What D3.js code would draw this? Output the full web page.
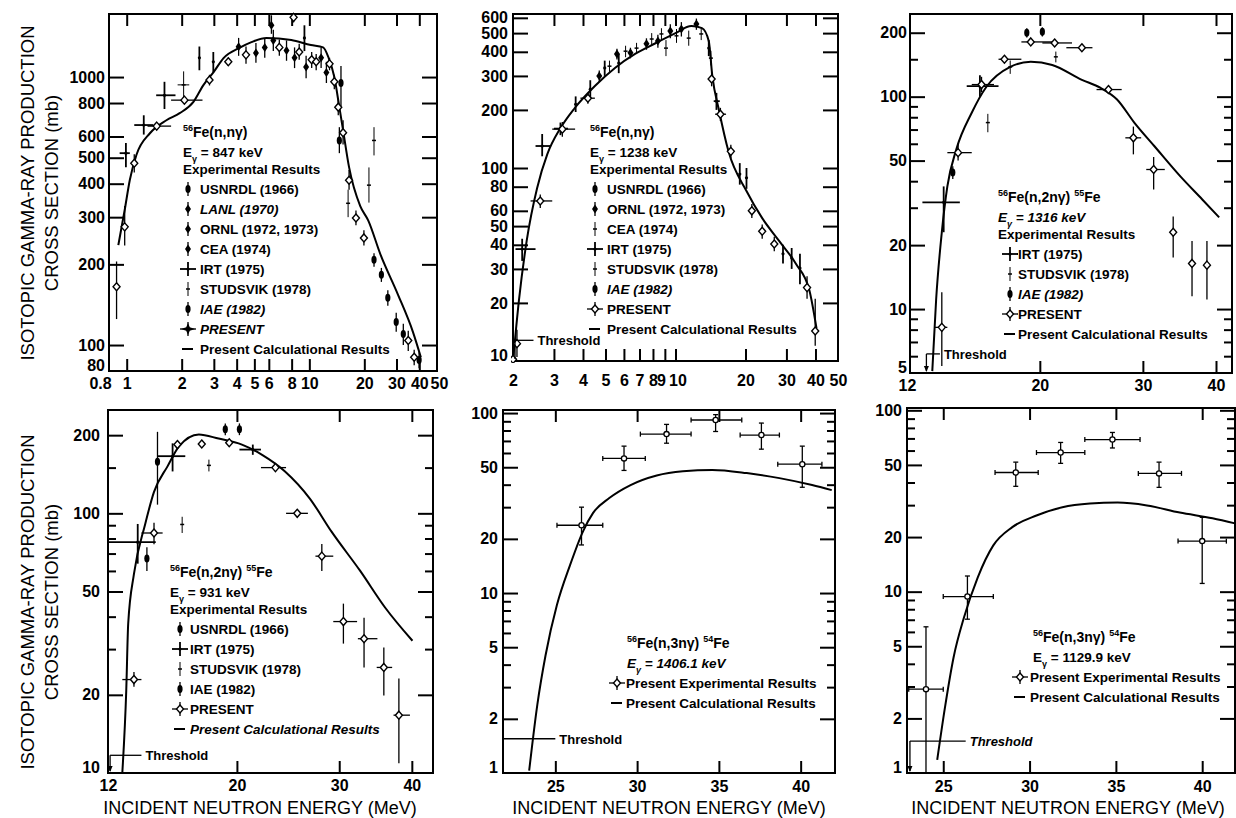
<!DOCTYPE html>
<meta charset="utf-8">
<script src="https://d3js.org/d3.v7.min.js"></script>
<style>
  body { margin: 0; background: #fff; }
  text { fill: #000; }
</style>
<div id="chart"></div>
<script>

// ---------------- data ----------------
// point format: [E (MeV), sigma (mb), sigmaLow, sigmaHigh, ELow, EHigh]

// panel 1 : 56Fe(n,n'g) 847 keV
var p1Calc = [[0.9,236],[0.975,319],[1.04,413],[1.13,512],[1.34,617],[1.65,690],[1.95,733],[2.32,808],
  [2.63,933],[2.99,1043],[3.39,1177],[4.14,1285],[4.82,1350],[5.82,1400],[7.97,1374],[10.2,1316],
  [11.9,1290],[12.7,1188],[13.7,1000],[14.6,772],[15.3,634],[16.5,461],[19.0,330],[21.0,292],
  [24.5,218],[30.6,154],[36.9,112],[40.8,90]];
var p1Present = [[0.88,165,125,205],[0.975,276,235,330],[1.1,477,440,515],[1.46,656,640,672,1.3,1.75],
  [2.07,820,800,840,1.75,2.6],[2.84,975,930,1020],[3.6,1140,1100,1180],[4.5,1210,1120,1300],
  [6.85,1290,1200,1380],[8.2,1670,1600,1720],[8.8,1240,1160,1330],[10.3,1160,1080,1240],
  [10.9,1140,1060,1220],[12.9,1120,1060,1180],[13.7,960,900,1020],[14.4,772,720,830],
  [15.3,620,560,690],[16.5,412,380,450],[18.0,298,280,318],[19.9,251,235,268],[34.8,104,95,113],[37.5,90,84,96]];
var p1Irt = [[0.99,520,461,567,0.915,1.04],[1.24,662,610,720,1.1,1.4],[1.61,855,760,960,1.45,1.85],
  [2.5,1180,1060,1300],[2.98,1140,1040,1240],[9.4,1400,1250,1560]];
var p1Studsvik = [[2.05,935,830,1050,1.9,2.2],[16.3,338,300,380],[21.2,395,340,460],[22.6,580,510,650]];
var p1Ornl = [[4.1,1296,1200,1400],[5.1,1230,1130,1340],[5.7,1290,1180,1400],[7.5,1255,1150,1370],
  [8.3,1180,1080,1290],[9.6,1090,990,1200],[11.6,1180,1080,1290],[12.4,1040,950,1140]];
var p1Lanl = [[6.2,1560,1450,1700],[6.35,1370,1250,1500]];
var p1Usnrdl = [[14.9,950,780,1100],[14.6,580,520,650]];
var p1Iae = [[22.6,208,196,220],[24.8,183,172,194],[26.9,150,140,160],[29.9,122,112,132],
  [32.7,110,100,120],[39.9,88,82,94]];

// panel 2 : 56Fe(n,n'g) 1238 keV
var p2Calc = [[2.0,10],[2.12,20.5],[2.29,41.9],[2.54,78.8],[2.81,118],[3.2,161],[3.68,204],[4.5,266],
  [5.49,330],[6.7,390],[8.2,443],[10.0,500],[11.7,544],[13.0,531],[13.9,455],[14.4,300],[15.4,198],
  [16.9,122],[20.2,76],[23.6,55],[27.9,41.9],[33.0,31.8],[37.7,23.1],[40.4,14.8]];
var p2Present = [[2.0,10.2,9.5,11],[2.08,12.3,10.5,14.5],[2.62,67.5,62,73,2.38,2.95],
  [3.26,159,145,173,2.95,3.7],[4.2,230,215,245,3.9,4.5],[14.3,289,265,315],[15.6,190,175,205,14.8,16.5],
  [17.3,122,112,132],[21.3,60,55,65],[23.6,47,43,51],[26.6,40.4,37,44],[36.8,24,21,27.5],[39.9,14.3,12,21]];
var p2Irt = [[2.19,38,33,43,2.05,2.5],[2.67,130,115,150,2.5,2.9],[3.2,160,148,172,3.0,3.45],
  [3.72,214,195,235],[4.3,256,230,285],[4.96,330,300,360],[5.7,350,310,390],[13.9,418,380,460],
  [15.0,222,200,245,14.6,15.5],[18.9,93,82,106],[20.2,89,78,100],[29.0,35.9,32,40],[31.6,34.2,30,38.5],[34.3,30.3,25,36]];
var p2Ornl = [[4.7,300,280,320],[5.6,390,365,415],[6.4,395,370,420],[7.5,440,410,470],[8.4,455,420,490],
  [9.5,512,470,555],[10.6,525,480,570],[12.3,557,520,595]];
var p2Cea = [[5.2,337,315,360],[6.1,403,375,430],[6.8,418,390,445],[7.9,466,435,500],[8.7,495,460,530],
  [9.1,418,380,460],[10.1,484,445,525],[11.4,471,430,515],[12.9,495,460,530],[14.2,371,340,405]];

// panel 3 : 56Fe(n,2ng)55Fe 1316 keV
var p3Calc = [[13.1,5.1],[13.3,11.1],[13.6,23],[13.9,37.8],[14.4,56.5],[15.3,84],[16.2,111],[17.8,138],
  [19.3,146],[21.0,141],[23.6,120],[25.4,110],[27.1,97],[29.0,75.5],[31.4,58.4],[34.8,42],[37.9,32.8],[40.5,27]];
var p3Present = [[13.6,8.2,5.4,12.0,13.2,13.9],[14.5,54.5,50,60,13.9,15.3],[15.9,114,105,124,15.3,16.7],
  [17.4,150,null,null,17.0,18.6],[19.3,181,null,null,18.6,21.0],[21.2,179,null,null,20.2,22.7],
  [23.6,170,null,null,22.2,24.6],[26.2,108,null,null,25.0,27.6],[28.9,64,53.5,72.3,28.0,29.8],
  [31.3,45.4,36.6,52,30.4,32.7],[33.8,23,17.5,27.3],[36.4,16.4,11.5,20.9],[38.6,16.1,11.1,20.9]];
var p3Irt = [[13.7,31.8,23,37.8,12.6,14.6],[15.8,112,100,126,15.0,17.0]];
var p3Studsvik = [[16.3,75.5,68,83],[17.8,138,128,148],[21.3,154,145,163]];
var p3Iae = [[14.2,44,41,47],[19.0,200,190,210],[20.2,202,192,212]];

// panel 4 : 56Fe(n,2ng)55Fe 931 keV
var p4Calc = [[12.7,10],[12.9,20.8],[13.0,37.6],[13.3,58.4],[13.9,90.6],[14.4,121],[15.2,152],[15.9,181],
  [17.2,201],[18.6,194],[20.4,184],[22.1,168],[24.2,145],[26.7,114],[29.1,85],[32.6,60],[36.0,43.3],[40.1,32.3]];
var p4Present = [[13.3,22.9,21.5,24.5,12.7,13.7],[14.4,84,76,92,13.7,14.9],[15.8,184],[17.4,185],[19.4,187],
  [23.3,150,null,null,22.0,24.3],[25.4,100,null,null,24.3,26.5],[28.0,68.4,60,76.2,27.3,29.3],
  [30.5,38.3,31.5,44.9,29.3,32.2],[33.1,32.9,25.5,39.6,32.3,34.9],[35.8,25.5,19.9,30.4,34.8,37.0],
  [38.0,16.7,10.9,23.1,37.2,39.7]];
var p4Irt = [[13.5,77.4,64,91,12.0,14.5],[15.5,166,145,186,14.6,16.3],[21.3,176,168,184,20.2,22.0]];
var p4Iae = [[14.0,67,60,74],[14.6,158,108,206],[19.1,211,200,222],[20.2,211,200,222]];
var p4Studsvik = [[16.1,90.6,84,97],[17.9,153,145,161]];

// panel 5 : 56Fe(n,3ng)54Fe 1408.1 keV
var p5Calc = [[23.4,1.03],[23.9,2.4],[24.4,4.5],[25.1,8.6],[25.9,14.3],[26.7,22.1],[27.3,27.8],[28.3,33.7],
  [29.6,39.8],[31.2,45],[32.8,47.5],[34.6,48.3],[36.7,46.4],[38.7,43.5],[40.7,39.8],[41.9,37.3]];
var p5Present = [[26.6,23.8,18.5,30,25.1,27.9],[29.2,56,48,65.5,27.9,30.5],[31.8,76.4,68,86.5,30.2,33.3],
  [34.8,91.5,79,98,33.3,36.4],[37.6,75.5,63,88,36.3,38.7],[40.1,52,38.7,65.5,38.6,41.3]];

// panel 6 : 56Fe(n,3ng)54Fe 1129.9 keV
var p6Calc = [[24.65,1.18],[25.1,2.3],[25.6,4.35],[26.2,7.2],[27.0,12.0],[27.9,18.0],[29.0,22.7],[30.4,26.3],
  [31.9,29.2],[33.5,30.6],[35.1,31.0],[36.8,29.9],[38.7,27.3],[40.6,25.4],[41.9,23.8]];
var p6Present = [[24.0,2.9,1,6.4,23.0,25.0],[26.4,9.4,7.05,12.2,25.0,27.9],[29.2,45.4,38.1,51.8,28.0,30.5],
  [31.8,58.5,51,66.5,30.4,33.2],[34.8,69,62,75.5,33.2,36.4],[37.5,44.9,37.6,51.8,36.3,38.8],
  [40.0,19,11.1,25.7,38.6,41.4]];

// tick labels
var p1XLabels = [0.8,1,2,3,4,5,6,8,10,20,30,40,50];
var p1YLabels = [80,100,200,300,400,500,600,800,1000];
var p2XLabels = [2,3,4,5,6,7,8,9,10,20,30,40,50];
var p2YLabels = [10,20,30,40,50,60,80,100,200,300,400,500,600];
var p3XLabels = [12,20,30,40];
var p3YLabels = [5,10,20,50,100,200];
var p4XLabels = [12,20,30,40];
var p4YLabels = [10,20,50,100,200];
var p5XLabels = [25,30,35,40];
var p5YLabels = [1,2,5,10,20,50,100];
var p6XLabels = [25,30,35,40];
var p6YLabels = [1,2,5,10,20,50,100];

// ---------------- drawing ----------------
var FONT = "'Liberation Sans', Arial, Helvetica, sans-serif";
var svg = d3.select("#chart").append("svg")
  .attr("width", 1236).attr("height", 818)
  .style("font-family", FONT);

var minorStd = [3,4,6,7,8,9,30,40,60,70,80,90];

var panels = [
  { left:109, right:437, top:14, bottom:371, xType:"log", xd:[0.8,50], yd:[80,1719],
    xLabels:p1XLabels, yLabels:p1YLabels, xMarks:[1,2,3,4,5,6,8,10,20,30,40],
    yMajor:[100,200,300,400,500,600,800,1000], yMinor:[], yPad:4, xPad:7, xNudge:{0.8:-9, 50:2},
    calc:p1Calc,
    series:[{type:"thin",pts:p1Studsvik},{type:"cross",pts:p1Irt},{type:"dia",pts:p1Ornl},
      {type:"dia",pts:p1Lanl},{type:"ell",pts:p1Usnrdl},{type:"ell",pts:p1Iae},{type:"open",pts:p1Present}],
    legend:{x:183, y:137, mx:188, tx:200, reaction:["56","Fe(n,n\u03b3)"], e:"847 keV", eItalic:false,
      rows:[["ell","USNRDL (1966)"],["dia","LANL (1970)",1],["dia","ORNL (1972, 1973)"],["dia","CEA (1974)"],
        ["cross","IRT (1975)"],["thin","STUDSVIK (1978)"],["ell","IAE (1982)",1],["star","PRESENT",1],
        ["line","Present Calculational Results"]]}
  },
  { left:513, right:838, top:14, bottom:361, xType:"log", xd:[2,50], yd:[10,628],
    xLabels:p2XLabels, yLabels:p2YLabels, xMarks:[3,4,5,6,7,8,9,10,20,30,40],
    yMajor:[20,30,40,50,60,80,100,200,300,400,500,600], yMinor:[], yPad:5, xPad:14, xNudge:{9:-4, 10:2},
    calc:p2Calc,
    series:[{type:"thin",pts:p2Cea},{type:"cross",pts:p2Irt},{type:"dia",pts:p2Ornl},{type:"open",pts:p2Present}],
    threshold:[2.04,12.8,2.45],
    legend:{x:590, y:137, mx:595, tx:607, reaction:["56","Fe(n,n\u03b3)"], e:"1238 keV", eItalic:false,
      rows:[["ell","USNRDL (1966)"],["dia","ORNL (1972, 1973)"],["thin","CEA (1974)"],["cross","IRT (1975)"],
        ["thin","STUDSVIK (1978)"],["ell","IAE (1982)",1],["openh","PRESENT"],["line","Present Calculational Results"]]}
  },
  { left:910, right:1232, top:14, bottom:373, xType:"log", xd:[12,42.6], yd:[5,245],
    xLabels:p3XLabels, yLabels:p3YLabels, xMarks:[20,30,40],
    yMajor:[10,20,50,100,200], yMinor:[6,7,8,9,30,40,60,70,80,90,150], yPad:3, xPad:7, xNudge:{12:-3},
    calc:p3Calc,
    series:[{type:"thin",pts:p3Studsvik},{type:"cross",pts:p3Irt},{type:"ell",pts:p3Iae},{type:"open",pts:p3Present}],
    threshold:[12.8,6.15,13.5,"arrow"],
    legend:{x:998, y:202, mx:1010, tx:1018, reaction:["56","Fe(n,2n\u03b3) ","55","Fe"], e:"1316 keV", eItalic:true,
      rows:[["cross","IRT (1975)"],["thin","STUDSVIK (1978)"],["ell","IAE (1982)",1],["openh","PRESENT"],
        ["line","Present Calculational Results"]]}
  },
  { left:108, right:433, top:410, bottom:773, xType:"log", xd:[12,43.5], yd:[10,250],
    xLabels:p4XLabels, yLabels:p4YLabels, xMarks:[20,30,40],
    yMajor:[20,50,100,200], yMinor:[30,40,60,70,80,90,150], yPad:8, xPad:7, xNudge:{},
    calc:p4Calc,
    series:[{type:"thin",pts:p4Studsvik},{type:"cross",pts:p4Irt},{type:"ell",pts:p4Iae},{type:"open",pts:p4Present}],
    threshold:[12.1,11.7,13.7,"arrow"],
    legend:{x:170, y:577, mx:180, tx:190, reaction:["56","Fe(n,2n\u03b3) ","55","Fe"], e:"931 keV", eItalic:false,
      rows:[["ell","USNRDL (1966)"],["cross","IRT (1975)"],["thin","STUDSVIK (1978)"],["ell","IAE (1982)"],
        ["openh","PRESENT"],["line","Present Calculational Results",1]]}
  },
  { left:503, right:835, top:410, bottom:773, xType:"lin", xd:[21.8,42.1], yd:[1,104],
    xLabels:p5XLabels, yLabels:p5YLabels, xMarks:[25,30,35,40],
    yMajor:[2,5,10,20,50,100], yMinor:minorStd, yPad:5, xPad:8, xNudge:{},
    calc:p5Calc, caps:true,
    series:[{type:"ring",pts:p5Present}],
    threshold:[21.8,1.55,25.0,"none"],
    legend:{x:627, y:648, mx:617, tx:626, noExp:true, reaction:["56","Fe(n,3n\u03b3) ","54","Fe"], e:"1406.1 keV", eItalic:true,
      rows:[["ringhv","Present Experimental Results"],["line","Present Calculational Results"]]}
  },
  { left:907, right:1235, top:408, bottom:773, xType:"lin", xd:[22.9,41.9], yd:[1,103],
    xLabels:p6XLabels, yLabels:p6YLabels, xMarks:[25,30,35,40],
    yMajor:[2,5,10,20,50,100], yMinor:minorStd, yPad:5, xPad:8, xNudge:{},
    calc:p6Calc, caps:true,
    series:[{type:"ring",pts:p6Present}],
    threshold:[23.07,1.5,26.3,"arrow",1],
    legend:{x:1033, y:642, mx:1020, tx:1030, noExp:true, reaction:["56","Fe(n,3n\u03b3) ","54","Fe"], e:"1129.9 keV", eItalic:false,
      rows:[["ringhv","Present Experimental Results"],["line","Present Calculational Results"]]}
  }
];

function line(g, x1, y1, x2, y2, w) {
  return g.append("line").attr("x1", x1).attr("y1", y1).attr("x2", x2).attr("y2", y2)
    .attr("stroke", "#000").attr("stroke-width", w || 1.3);
}

function marker(g, type, cx, cy) {
  if (type === "open" || type === "openh") {
    g.append("path").attr("d", "M" + cx + "," + (cy - 4) + "L" + (cx + 3.5) + "," + cy + "L" + cx + "," + (cy + 4) + "L" + (cx - 3.5) + "," + cy + "Z")
      .attr("fill", "#fff").attr("stroke", "#000").attr("stroke-width", 1.4);
  } else if (type === "ring" || type === "ringhv") {
    g.append("circle").attr("cx", cx).attr("cy", cy).attr("r", 2.6)
      .attr("fill", "#fff").attr("stroke", "#000").attr("stroke-width", 1.3);
  } else if (type === "dia") {
    g.append("path").attr("d", "M" + cx + "," + (cy - 4.5) + "L" + (cx + 3) + "," + cy + "L" + cx + "," + (cy + 4.5) + "L" + (cx - 3) + "," + cy + "Z")
      .attr("fill", "#000");
  } else if (type === "ell") {
    g.append("ellipse").attr("cx", cx).attr("cy", cy).attr("rx", 2.6).attr("ry", 4).attr("fill", "#000");
  } else if (type === "cross") {
    g.append("circle").attr("cx", cx).attr("cy", cy).attr("r", 1.6).attr("fill", "#000");
  } else if (type === "thin") {
    line(g, cx - 2, cy, cx + 2, cy, 1.5);
  } else if (type === "star") {
    g.append("path").attr("d", "M" + cx + "," + (cy - 6) + "L" + (cx + 1.8) + "," + (cy - 1.8) + "L" + (cx + 7) + "," + cy +
      "L" + (cx + 1.8) + "," + (cy + 1.8) + "L" + cx + "," + (cy + 6) + "L" + (cx - 1.8) + "," + (cy + 1.8) +
      "L" + (cx - 7) + "," + cy + "L" + (cx - 1.8) + "," + (cy - 1.8) + "Z").attr("fill", "#000");
  }
}

function drawPanel(cfg, idx) {
  var x = (cfg.xType === "log" ? d3.scaleLog() : d3.scaleLinear()).domain(cfg.xd).range([cfg.left, cfg.right]);
  var y = d3.scaleLog().domain(cfg.yd).range([cfg.bottom, cfg.top]);
  var g = svg.append("g").attr("class", "panel" + (idx + 1));

  var clipId = "clip" + idx;
  svg.append("clipPath").attr("id", clipId).append("rect")
    .attr("x", cfg.left - 2).attr("y", cfg.top - 2)
    .attr("width", cfg.right - cfg.left + 4).attr("height", cfg.bottom - cfg.top + 4);

  // inward tick marks on all four sides
  function ticks(axis, tx, ty) {
    var a = g.append("g").attr("transform", "translate(" + tx + "," + ty + ")").call(axis);
    a.select(".domain").remove();
    a.selectAll("line").attr("stroke", "#000").attr("stroke-width", 2);
  }
  ticks(d3.axisLeft(y).tickValues(cfg.yMajor).tickSize(-15).tickFormat(""), cfg.left, 0);
  ticks(d3.axisRight(y).tickValues(cfg.yMajor).tickSize(-15).tickFormat(""), cfg.right, 0);
  if (cfg.yMinor.length) {
    ticks(d3.axisLeft(y).tickValues(cfg.yMinor).tickSize(-8).tickFormat(""), cfg.left, 0);
    ticks(d3.axisRight(y).tickValues(cfg.yMinor).tickSize(-8).tickFormat(""), cfg.right, 0);
  }
  ticks(d3.axisTop(x).tickValues(cfg.xMarks).tickSize(-12).tickFormat(""), 0, cfg.top);
  ticks(d3.axisBottom(x).tickValues(cfg.xMarks).tickSize(-12).tickFormat(""), 0, cfg.bottom);

  // tick labels
  var yl = g.append("g").attr("transform", "translate(" + cfg.left + ",0)")
    .call(d3.axisLeft(y).tickValues(cfg.yLabels).tickSize(0).tickPadding(cfg.yPad).tickFormat(function (d) { return String(d); }));
  yl.select(".domain").remove();
  // lowest y label sits a little higher so it clears the x labels
  yl.selectAll(".tick").filter(function (d) { return d === cfg.yd[0]; }).select("text").attr("dy", "-0.05em");
  var xl = g.append("g").attr("transform", "translate(0," + cfg.bottom + ")")
    .call(d3.axisBottom(x).tickValues(cfg.xLabels).tickSize(0).tickPadding(cfg.xPad).tickFormat(function (d) { return String(d); }));
  xl.select(".domain").remove();
  xl.selectAll(".tick text").attr("dx", function (d) { return cfg.xNudge[d] || 0; });
  g.selectAll(".tick text").attr("font-family", FONT).attr("font-size", 16).attr("font-weight", "bold").attr("fill", "#000");

  // frame
  g.append("rect").attr("x", cfg.left).attr("y", cfg.top)
    .attr("width", cfg.right - cfg.left).attr("height", cfg.bottom - cfg.top)
    .attr("fill", "none").attr("stroke", "#000").attr("stroke-width", 2);

  var plot = g.append("g").attr("clip-path", "url(#" + clipId + ")");

  // calculated curve
  plot.append("path").datum(cfg.calc)
    .attr("d", d3.line().x(function (d) { return x(d[0]); }).y(function (d) { return y(d[1]); }).curve(d3.curveMonotoneX))
    .attr("fill", "none").attr("stroke", "#000").attr("stroke-width", 2);

  // experimental points
  cfg.series.forEach(function (s) {
    var sw = s.type === "cross" ? 1.8 : (s.type === "thin" ? 1 : 1.3);
    s.pts.forEach(function (p) {
      var cx = x(p[0]), cy = y(p[1]);
      if (p[2] != null) {
        line(plot, cx, y(p[2]), cx, y(p[3]), sw);
        if (cfg.caps) { line(plot, cx - 2.5, y(p[2]), cx + 2.5, y(p[2]), 1.3); line(plot, cx - 2.5, y(p[3]), cx + 2.5, y(p[3]), 1.3); }
      }
      if (p[4] != null) {
        line(plot, x(p[4]), cy, x(p[5]), cy, sw);
        if (cfg.caps) { line(plot, x(p[4]), cy - 2.5, x(p[4]), cy + 2.5, 1.3); line(plot, x(p[5]), cy - 2.5, x(p[5]), cy + 2.5, 1.3); }
      }
      marker(plot, s.type, cx, cy);
    });
  });

  // threshold marker
  if (cfg.threshold) {
    var t = cfg.threshold, tx = x(t[0]), ty = y(t[1]);
    line(g, tx, ty, x(t[2]), ty, 1.3);
    if (t[3] !== "none") {
      line(g, tx, ty, tx, cfg.bottom - 2, 1.3);
      if (t[3] === "arrow") g.append("path").attr("d", "M" + (tx - 2.5) + "," + (cfg.bottom - 7) + "L" + (tx + 2.5) + "," + (cfg.bottom - 7) + "L" + tx + "," + (cfg.bottom - 1) + "Z").attr("fill", "#000");
    }
    g.append("text").attr("x", x(t[2]) + 4).attr("y", ty + 5)
      .attr("font-size", 13).attr("font-weight", "bold").attr("font-style", t[4] ? "italic" : "normal").text("Threshold");
  }

  // legend
  var L = cfg.legend;
  var title = g.append("text").attr("x", L.x).attr("y", L.y).attr("font-size", 14).attr("font-weight", "bold");
  L.reaction.forEach(function (part, i) {
    var sup = (i % 2 === 0);
    title.append("tspan").attr("font-size", sup ? 9 : 14)
      .attr("dy", i === 0 ? -6 : (sup ? -6 : 6)).text(part);
  });
  var eT = g.append("text").attr("x", L.x).attr("y", L.y + 20).attr("font-size", 13.5).attr("font-weight", "bold")
    .attr("font-style", L.eItalic ? "italic" : "normal");
  eT.append("tspan").text("E");
  eT.append("tspan").attr("font-size", 9).attr("dy", 5).text("\u03b3");
  eT.append("tspan").attr("dy", -5).text(" = " + L.e);
  var rowY = L.y + 40;
  if (!L.noExp) {
    g.append("text").attr("x", L.x).attr("y", L.y + 37).attr("font-size", 13.5).attr("font-weight", "bold").text("Experimental Results");
    rowY = L.y + 57;
  }
  L.rows.forEach(function (r, i) {
    var cy = rowY + i * 20 - 5;
    var mx = L.mx;
    if (r[0] === "line") {
      line(g, mx - 6, cy, mx + 5, cy, 2);
    } else {
      var w = r[0] === "cross" ? 1.8 : (r[0] === "thin" ? 1 : 1.3);
      line(g, mx, cy - 7, mx, cy + 7, w);
      if (r[0] === "cross" || r[0] === "openh" || r[0] === "ringhv" || r[0] === "star") line(g, mx - 8, cy, mx + 8, cy, w);
      marker(g, r[0] === "ringhv" ? "open" : r[0], mx, cy);
    }
    g.append("text").attr("x", L.tx).attr("y", cy + 5).attr("font-size", 13.5).attr("font-weight", "bold")
      .attr("font-style", r[2] ? "italic" : "normal").text(r[1]);
  });
}

panels.forEach(drawPanel);

// axis titles
function yTitle(cy) {
  svg.append("text").attr("transform", "translate(28," + cy + ") rotate(-90)").attr("dy", "0.35em")
    .attr("text-anchor", "middle").attr("font-size", 18.5).text("ISOTOPIC GAMMA-RAY PRODUCTION");
  svg.append("text").attr("transform", "translate(52," + cy + ") rotate(-90)").attr("dy", "0.35em")
    .attr("text-anchor", "middle").attr("font-size", 18.5).text("CROSS SECTION (mb)");
}
yTitle(193);
yTitle(602);
[260, 669, 1068].forEach(function (cx) {
  svg.append("text").attr("x", cx).attr("y", 814).attr("text-anchor", "middle")
    .attr("font-size", 18).text("INCIDENT NEUTRON ENERGY (MeV)");
});

</script>
